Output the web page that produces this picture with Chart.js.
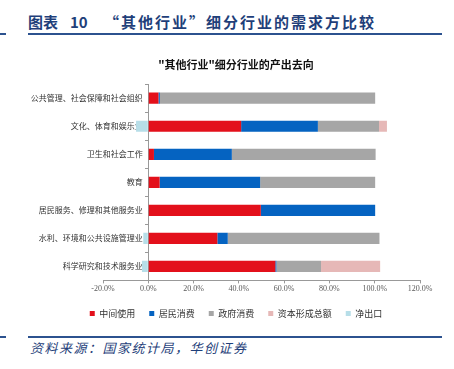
<!DOCTYPE html>
<html lang="zh">
<head>
<meta charset="UTF-8">
<title>其他行业细分行业的需求方比较</title>
<script src="https://cdn.jsdelivr.net/npm/chart.js@4/dist/chart.umd.min.js"></script>
<style>
    body {
        margin: 0;
        width: 454px;
        height: 369px;
        background: #fff;
        position: relative;
        overflow: hidden;
        font-family: "Noto Sans CJK SC", sans-serif;
    }
    .heading {
        position: absolute;
        top: 11px;
        font-size: 15px;
        font-weight: bold;
        color: #1f3f7a;
        white-space: nowrap;
    }
    .rule {
        position: absolute;
        height: 2px;
        background: #2c528f;
    }
    .source {
        position: absolute;
        left: 30px;
        top: 338px;
        font-size: 13px;
        font-style: italic;
        color: #1f3f7a;
        letter-spacing: 1.5px;
        white-space: nowrap;
    }
    .chart-box {
        position: absolute;
        left: 8px;
        top: 44px;
        width: 456px;
        height: 284px;
    }
</style>
</head>
<body>
    <div class="heading" style="left:28px">图表</div>
    <div class="heading" style="left:70px">10</div>
    <div class="heading" style="left:104px; letter-spacing:2px">“其他行业”细分行业的需求方比较</div>
    <div class="rule" style="left:0; width:6px; top:33px"></div>
    <div class="rule" style="left:28px; width:414px; top:33px"></div>

    <div class="chart-box"><canvas id="c"></canvas></div>

    <div class="rule" style="left:0; width:6px; top:336px"></div>
    <div class="rule" style="left:28px; width:414px; top:336px"></div>
    <div class="source">资料来源：国家统计局，华创证券</div>

<script>
const categories = ['公共管理、社会保障和社会组织', '文化、体育和娱乐业', '卫生和社会工作', '教育',
    '居民服务、修理和其他服务业', '水利、环境和公共设施管理业', '科学研究和技术服务业'];
const seriesNames = ['中间使用', '居民消费', '政府消费', '资本形成总额', '净出口'];
const intermediate = [4.5, 41.0, 2.5, 5.0, 49.7, 30.5, 56.1];
const household = [0.6, 33.9, 34.4, 44.4, 50.5, 4.6, 0.5];
const government = [95.1, 27.0, 63.5, 50.8, 0, 67.0, 19.7];
const capital = [0, 3.5, 0, 0, 0, 0, 26.1];
const netExport = [0, -5.4, 0, 0, 0, -2.2, -2.8];
const xTicks = [-20, 0, 20, 40, 60, 80, 100, 120];

const colors = ['#e3101b', '#0563c1', '#a6a6a6', '#e6b8b7', '#b7dee8'];
const values = [intermediate, household, government, capital, netExport];

// empty side axes just hold the plot area in place
const spacer = w => ({
    axis: 'y',
    type: 'category',
    grid: { display: false },
    border: { display: false },
    ticks: { display: false },
    afterFit: s => { s.width = w; }
});

const ctx = document.getElementById('c').getContext('2d');
new Chart(ctx, {
    type: 'bar',
    data: {
        labels: categories,
        datasets: seriesNames.map((name, i) => ({
            label: name,
            data: values[i],
            backgroundColor: colors[i],
            borderWidth: 0,
            categoryPercentage: 1,
            barPercentage: 0.4
        }))
    },
    options: {
        indexAxis: 'y',
        responsive: true,
        maintainAspectRatio: false,
        animation: false,
        plugins: {
            title: {
                display: true,
                text: '"其他行业"细分行业的产出去向',
                color: '#111',
                font: { family: 'Noto Sans CJK SC', size: 11, weight: 'bold' },
                padding: { top: 14, bottom: 13 }
            },
            legend: {
                position: 'bottom',
                labels: {
                    boxWidth: 5,
                    boxHeight: 5,
                    padding: 14,
                    color: '#333',
                    font: { family: 'Noto Sans CJK SC', size: 9 }
                }
            },
            tooltip: { enabled: false }
        },
        scales: {
            x: {
                stacked: true,
                min: -20,
                max: 120,
                afterBuildTicks: axis => { axis.ticks = xTicks.map(v => ({ value: v })); },
                grid: { drawOnChartArea: false, drawTicks: true, tickLength: 3, color: '#999' },
                border: { color: '#999' },
                ticks: {
                    color: '#595959',
                    padding: 1,
                    font: { family: 'Liberation Serif', size: 8 },
                    callback: v => v.toFixed(1) + '%'
                }
            },
            y: {
                stacked: true,
                position: { x: 0 },
                z: 1,
                grid: { drawOnChartArea: false, drawTicks: true, tickLength: 3, color: '#999', offset: true },
                border: { color: '#999' },
                ticks: {
                    color: '#333',
                    font: { family: 'Noto Sans CJK SC', size: 8 },
                    callback: function (v) { return this.getLabelForValue(v) + '\u2002\u2009'; }
                }
            },
            padLeft: Object.assign(spacer(95), { position: 'left' }),
            padRight: Object.assign(spacer(44), { position: 'right' })
        }
    }
});
</script>
</body>
</html>
